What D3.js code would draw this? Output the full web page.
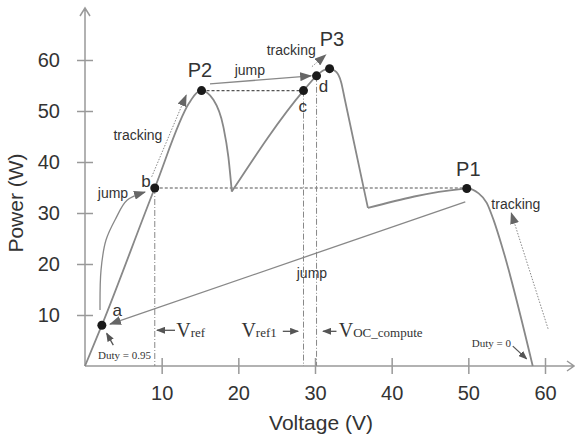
<!DOCTYPE html>
<html>
<head>
<meta charset="utf-8">
<script src="https://cdn.jsdelivr.net/npm/d3@7"></script>
<style>
body { margin: 0; background: #fff; }
.tick text { font-family: "Liberation Sans", Arial, sans-serif; font-size: 20px; fill: #333; }
.lbl { font-family: "Liberation Sans", Arial, sans-serif; fill: #333; }
.ser { font-family: "Liberation Serif", "Times New Roman", serif; fill: #333; }
</style>
</head>
<body>
<div id="chart"></div>
<script>
// PV curve with jump / tracking annotations

var WIDTH = 575;
var HEIGHT = 438;

var xTicks = [10, 20, 30, 40, 50, 60];
var yTicks = [10, 20, 30, 40, 50, 60];

// curve pieces [V, P]
var rise = [[0, 0], [2.2, 8], [9.1, 34.9], [13.6, 51.6], [14.6, 53.6], [15.2, 54.0],
            [16.75, 52.2], [18.05, 46.9], [18.7, 41.0], [19.15, 34.2]];
var middle = [[19.15, 34.2], [28.5, 54.0], [30.2, 56.9], [31.0, 57.9], [31.9, 58.3],
              [32.8, 57.6], [33.4, 55.7], [33.9, 52.2], [36.9, 31.0]];
var tail = [[36.9, 31.0], [49.0, 34.7], [49.8, 34.8], [51.3, 33.9], [52.4, 32.0],
            [53.3, 28.6], [54.4, 23.4], [58.4, 0]];

var dotNames = ["a", "b", "P2", "c", "d", "P3", "P1"];
var dotV = [2.2, 9.1, 15.2, 28.5, 30.2, 31.9, 49.8];
var dotP = [8.0, 34.9, 54.0, 54.0, 56.9, 58.3, 34.8];

// dashed levels [V1, V2, P]
var hLevels = [[9.1, 49.8, 34.9], [15.2, 28.5, 54.0]];
// dash-dot drops [V, Ptop]
var vDrops = [[9.1, 34.9], [28.5, 54.0], [30.2, 56.9]];

// arrows: points in [V, P], style
var arrows = [
    { pts: [[16.3, 55.3], [29.5, 56.9]], style: "solid" },
    { pts: [[29.6, 58.7], [31.4, 61.0]], style: "dot" },
    { pts: [[8.7, 37.1], [13.2, 53.1]], style: "dot" },
    { pts: [[60.4, 7.3], [55.6, 30.0]], style: "dot" },
    { pts: [[49.6, 32.2], [3.26, 8.2]], style: "solid" },
    { pts: [[1.96, 11.0], [2.09, 18.8], [2.74, 24.7], [4.04, 29.0], [5.48, 32.5], [7.83, 34.1]], style: "solid" },
    { pts: [[3.69, 4.1], [2.83, 6.4]], style: "small" },
    { pts: [[55.8, 3.9], [57.6, 1.4]], style: "small" },
    { pts: [[11.74, 7.0], [9.39, 7.0]], style: "small" },
    { pts: [[25.8, 6.8], [27.8, 6.8]], style: "small" },
    { pts: [[32.8, 6.8], [31.05, 6.8]], style: "small" }
];

// plain labels [text, V, P, size]
var labels = [
    ["P2", 15.0, 58.0, 20], ["P3", 32.2, 64.1, 20], ["P1", 50.0, 38.6, 20],
    ["a", 4.2, 11.0, 17], ["b", 7.96, 36.3, 17], ["c", 28.4, 51.0, 17], ["d", 31.1, 54.9, 17],
    ["tracking", 6.9, 45.3, 14], ["tracking", 26.9, 62.0, 14], ["tracking", 56.2, 31.8, 14],
    ["jump", 3.65, 33.9, 14], ["jump", 21.5, 58.0, 14], ["jump", 29.6, 18.2, 14]
];

var dutyLabels = [["Duty = 0.95", 5.15, 2.1], ["Duty = 0", 53.0, 4.5]];

// V labels [main, sub, V, P]
var vLabels = [["V", "ref", 11.9, 5.7], ["V", "ref1", 20.4, 5.7], ["V", "OC_compute", 33.1, 5.7]];

var x = d3.scaleLinear().domain([0, 60]).range([85, 545]);
var y = d3.scaleLinear().domain([0, 60]).range([366, 60]);

var svg = d3.select("#chart").append("svg")
    .attr("width", WIDTH)
    .attr("height", HEIGHT);

var defs = svg.append("defs");
defs.append("marker").attr("id", "head")
    .attr("markerUnits", "userSpaceOnUse")
    .attr("markerWidth", 12).attr("markerHeight", 9)
    .attr("refX", 11).attr("refY", 4.5).attr("orient", "auto")
    .append("path").attr("d", "M0,0 L12,4.5 L0,9 Z").attr("fill", "#666");
defs.append("marker").attr("id", "headS")
    .attr("markerUnits", "userSpaceOnUse")
    .attr("markerWidth", 9).attr("markerHeight", 7)
    .attr("refX", 8).attr("refY", 3.5).attr("orient", "auto")
    .append("path").attr("d", "M0,0 L9,3.5 L0,7 Z").attr("fill", "#555");

// axes
var xAxis = svg.append("g")
    .attr("transform", "translate(0," + y(0) + ")")
    .call(d3.axisBottom(x).tickValues(xTicks).tickSizeInner(8).tickSizeOuter(0).tickPadding(12));
xAxis.select(".domain").remove();
xAxis.selectAll(".tick line").attr("y1", -8).attr("stroke", "#999").attr("stroke-width", 1.5);
xAxis.selectAll(".tick text").attr("y", 20);

var yAxis = svg.append("g")
    .attr("transform", "translate(" + x(0) + ",0)")
    .call(d3.axisLeft(y).tickValues(yTicks).tickSizeInner(8).tickSizeOuter(0).tickPadding(17));
yAxis.select(".domain").remove();
yAxis.selectAll(".tick line").attr("x1", 8).attr("stroke", "#999").attr("stroke-width", 1.5);

svg.append("path")
    .attr("d", "M" + x(0) + "," + y(0) + "V8M" + (x(0) - 5) + ",16L" + x(0) + ",8L" + (x(0) + 5) + ",16")
    .attr("fill", "none").attr("stroke", "#999").attr("stroke-width", 1.5);
svg.append("path")
    .attr("d", "M" + x(0) + "," + y(0) + "H574M567," + (y(0) - 5) + "L574," + y(0) + "L567," + (y(0) + 5))
    .attr("fill", "none").attr("stroke", "#999").attr("stroke-width", 1.5);

svg.append("text").attr("class", "lbl")
    .attr("x", 321).attr("y", 430)
    .attr("text-anchor", "middle").attr("font-size", 21)
    .text("Voltage (V)");
svg.append("text").attr("class", "lbl")
    .attr("transform", "translate(23,203) rotate(-90)")
    .attr("text-anchor", "middle").attr("font-size", 21)
    .text("Power (W)");

// reference lines
svg.selectAll(".hlev").data(hLevels).enter().append("line")
    .attr("x1", function(d) { return x(d[0]); })
    .attr("x2", function(d) { return x(d[1]); })
    .attr("y1", function(d) { return y(d[2]); })
    .attr("y2", function(d) { return y(d[2]); })
    .attr("stroke", "#555").attr("stroke-width", 1.2)
    .attr("stroke-dasharray", "3,2");

svg.selectAll(".vdrop").data(vDrops).enter().append("line")
    .attr("x1", function(d) { return x(d[0]); })
    .attr("x2", function(d) { return x(d[0]); })
    .attr("y1", function(d) { return y(d[1]); })
    .attr("y2", y(0))
    .attr("stroke", "#888").attr("stroke-width", 1)
    .attr("stroke-dasharray", "6,2,1,2");

// PV curve
var line = d3.line()
    .x(function(d) { return x(d[0]); })
    .y(function(d) { return y(d[1]); })
    .curve(d3.curveMonotoneX);

[rise, middle, tail].forEach(function(seg) {
    svg.append("path")
        .attr("d", line(seg))
        .attr("fill", "none")
        .attr("stroke", "#888")
        .attr("stroke-width", 1.8);
});

// arrows
var aline = d3.line()
    .x(function(d) { return x(d[0]); })
    .y(function(d) { return y(d[1]); })
    .curve(d3.curveCatmullRom);

arrows.forEach(function(a) {
    var p = svg.append("path")
        .attr("d", aline(a.pts))
        .attr("fill", "none");
    if( a.style == "dot" ) {
        p.attr("stroke", "#888").attr("stroke-width", 1).attr("stroke-dasharray", "1.5,1.5")
            .attr("marker-end", "url(#head)");
    } else if( a.style == "small" ) {
        p.attr("stroke", "#555").attr("stroke-width", 1.3).attr("marker-end", "url(#headS)");
    } else {
        p.attr("stroke", "#888").attr("stroke-width", 1.3).attr("marker-end", "url(#head)");
    }
});

// dots
svg.selectAll(".dot").data(dotNames).enter().append("circle")
    .attr("cx", function(d, i) { return x(dotV[i]); })
    .attr("cy", function(d, i) { return y(dotP[i]); })
    .attr("r", 4.5)
    .attr("fill", "#1a1a1a");

// labels
svg.selectAll(".ann").data(labels).enter().append("text")
    .attr("class", "lbl")
    .attr("x", function(d) { return x(d[1]); })
    .attr("y", function(d) { return y(d[2]); })
    .attr("dy", "0.36em")
    .attr("text-anchor", "middle")
    .attr("font-size", function(d) { return d[3]; })
    .text(function(d) { return d[0]; });

svg.selectAll(".duty").data(dutyLabels).enter().append("text")
    .attr("class", "ser")
    .attr("x", function(d) { return x(d[1]); })
    .attr("y", function(d) { return y(d[2]); })
    .attr("dy", "0.35em")
    .attr("text-anchor", "middle")
    .attr("font-size", 11)
    .text(function(d) { return d[0]; });

vLabels.forEach(function(v) {
    var t = svg.append("text").attr("class", "ser")
        .attr("x", x(v[2])).attr("y", y(v[3]));
    t.append("tspan").attr("font-size", 20).text(v[0]);
    t.append("tspan").attr("font-size", 13).text(v[1]);
});
</script>
</body>
</html>
